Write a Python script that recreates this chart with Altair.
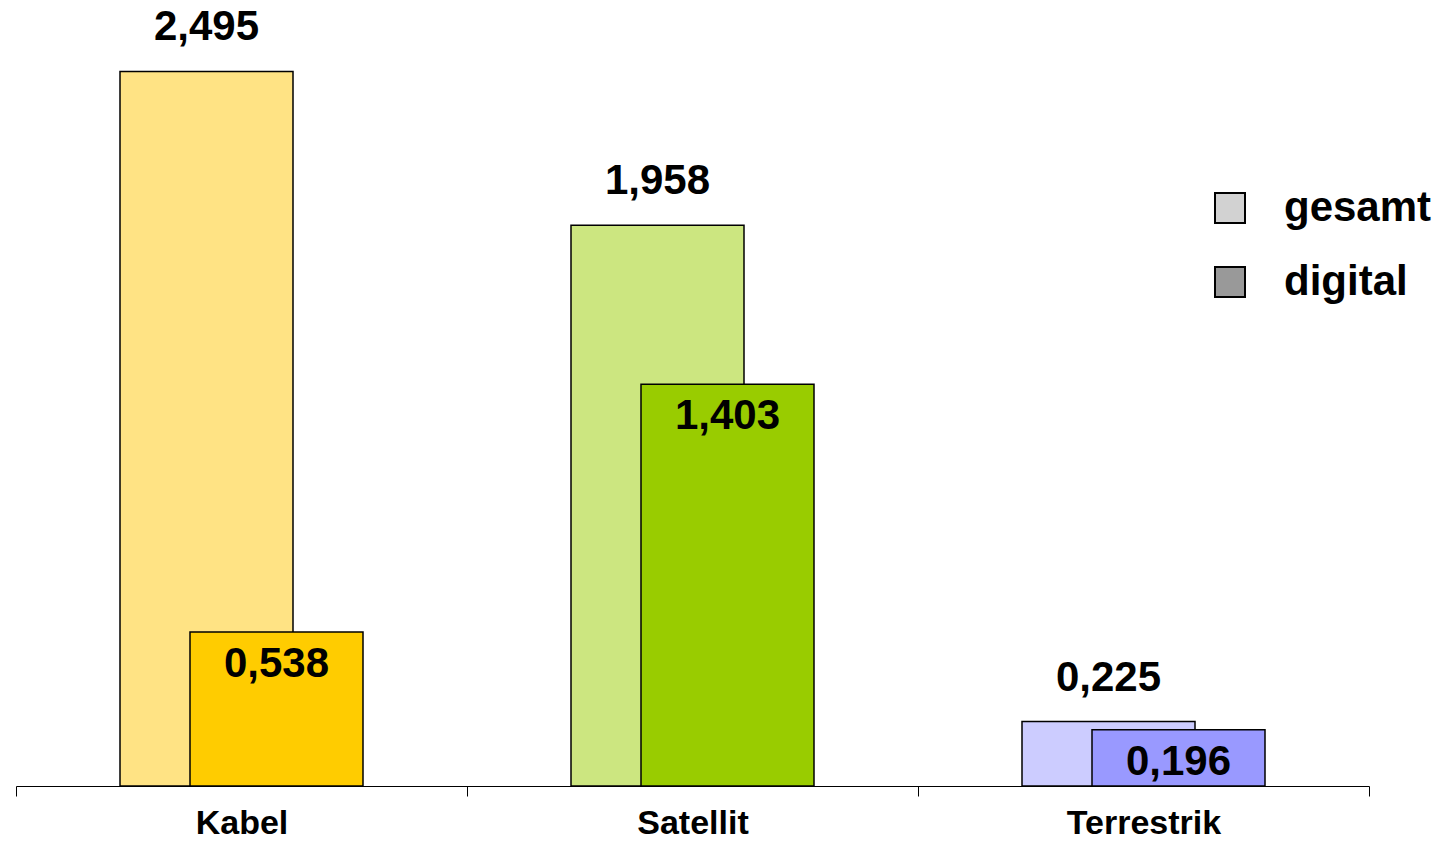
import altair as alt
import pandas as pd

categories = ["Kabel", "Satellit", "Terrestrik"]
gesamt = [2.495, 1.958, 0.225]
digital = [0.538, 1.403, 0.196]
gesamt_colors = ["#FFE384", "#CCE680", "#CCCCFF"]
digital_colors = ["#FFCC00", "#99CC00", "#9999FF"]
legend_series = ["gesamt", "digital"]
legend_colors = ["#D2D2D2", "#999999"]

def fmt(v):
    return f"{v:.3f}".replace(".", ",")

df_g = pd.DataFrame({"cat": categories, "value": gesamt, "fill": gesamt_colors,
                     "label": [fmt(v) for v in gesamt]})
df_d = pd.DataFrame({"cat": categories, "value": digital, "fill": digital_colors,
                     "label": [fmt(v) for v in digital]})
df_leg = pd.DataFrame({"series": legend_series})

FONT = "Liberation Sans"

x = alt.X("cat:N", sort=categories, title=None,
          scale=alt.Scale(paddingInner=0, paddingOuter=0),
          axis=alt.Axis(labelAngle=0, tickBand="extent", domainColor="#000000",
                        tickColor="#000000", tickSize=10, domainWidth=1, tickWidth=1,
                        labelFont=FONT, labelFontWeight="bold", labelFontSize=34,
                        labelColor="#000000", labelPadding=10, labelBaseline="top",
                        grid=False))
y = alt.Y("value:Q", scale=alt.Scale(domain=[0, 2.5], nice=False), axis=None)

bars_g = alt.Chart(df_g).mark_bar(width=173, xOffset=-35, stroke="#000000",
                                  strokeWidth=1.5).encode(
    x=x, y=y, fill=alt.Fill("fill:N", scale=None, legend=None))
bars_d = alt.Chart(df_d).mark_bar(width=173, xOffset=35, stroke="#000000",
                                  strokeWidth=1.5).encode(
    x=x, y=y, fill=alt.Fill("fill:N", scale=None, legend=None))

text_g = alt.Chart(df_g).mark_text(dx=-35, dy=-31, baseline="alphabetic", font=FONT,
                                   fontWeight="bold", fontSize=42, color="#000000").encode(
    x=x, y=y, text="label:N")
text_d = alt.Chart(df_d).mark_text(dx=35, dy=45, baseline="alphabetic", font=FONT,
                                   fontWeight="bold", fontSize=42, color="#000000").encode(
    x=x, y=y, text="label:N")

legend_layer = alt.Chart(df_leg).mark_square(opacity=0).encode(
    color=alt.Color("series:N", sort=legend_series,
                    scale=alt.Scale(domain=legend_series, range=legend_colors),
                    legend=alt.Legend(title=None, orient="none", legendX=1193, legendY=117,
                                      symbolType="square", symbolSize=900,
                                      symbolStrokeColor="#000000", symbolStrokeWidth=2,
                                      symbolOpacity=1, labelFont=FONT,
                                      labelFontWeight="bold", labelFontSize=42,
                                      labelColor="#000000", labelOffset=33,
                                      rowPadding=32, padding=0)))

chart = alt.layer(bars_g, bars_d, text_g, text_d, legend_layer).properties(
    width=1353, height=716,
    padding={"left": 8, "top": 62, "right": 71, "bottom": 54},
    autosize=alt.AutoSizeParams(type="none"),
    background="#FFFFFF",
).configure_view(strokeWidth=0, stroke=None)

chart.save("out.html", embed_options={"renderer": "svg", "actions": False})
